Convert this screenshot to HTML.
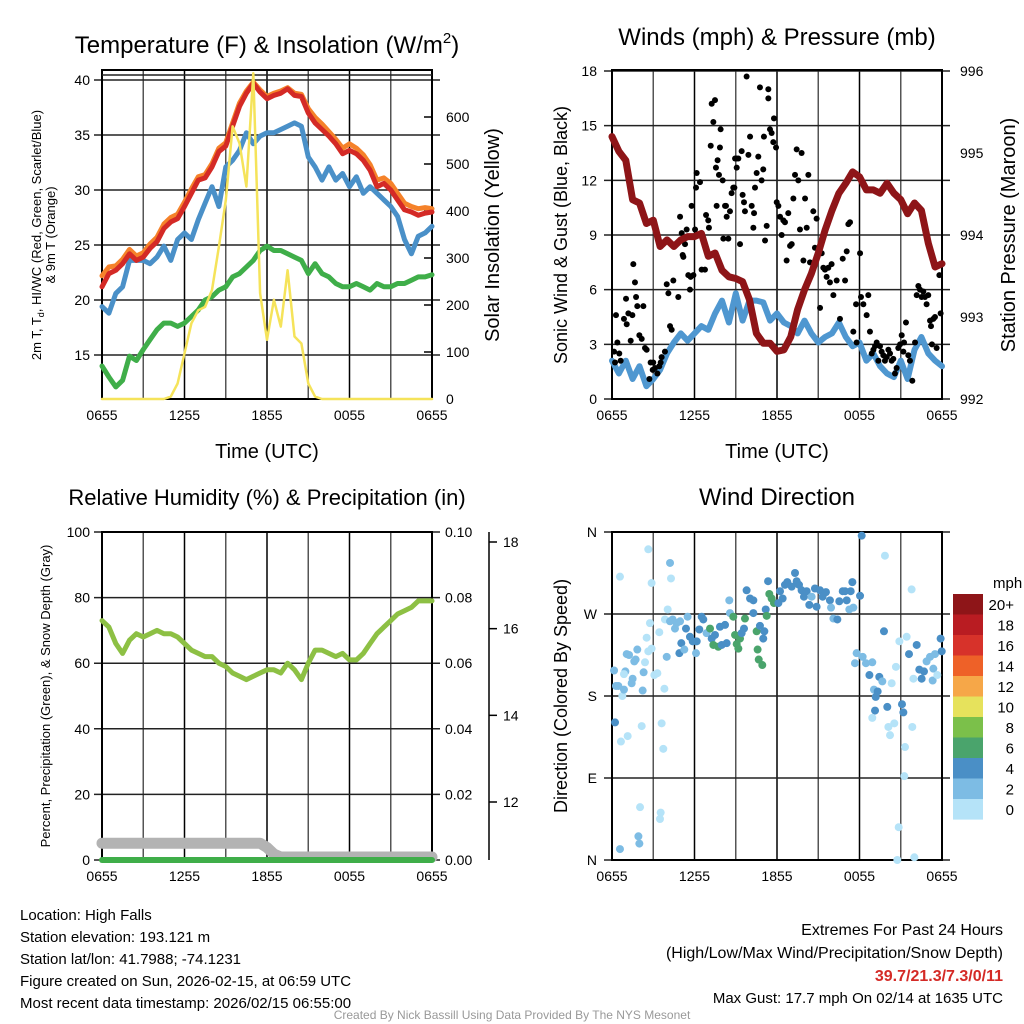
<!DOCTYPE html>
<html><head><meta charset="utf-8"><style>
body{margin:0;background:#fff;}
svg{display:block;font-family:"Liberation Sans",Arial,sans-serif;}
</style></head><body>
<svg id="s" width="1024" height="1024" viewBox="0 0 1024 1024"></svg>
<script>
// ---------- DATA ----------
const hoursHalf = Array.from({length:49},(_,i)=>i*0.5);
const xTickLabels = ["0655","1255","1855","0055","0655"];
const tempRed = [21.2,22.4,22.7,23.3,24.2,23.6,23.9,24.7,25.3,26.5,27.1,27.4,28.5,29.7,30.9,31.1,32.1,33.5,34.0,35.8,37.6,38.8,39.7,38.9,38.3,38.6,38.8,39.2,38.6,38.5,37.0,36.1,35.5,34.9,34.2,33.3,33.6,33.3,32.7,31.8,30.3,30.6,30.0,29.1,28.2,28.0,27.7,27.9,28.0];
const tempOrange = [22.2,23.0,23.1,23.7,24.6,24.0,24.3,25.1,25.7,26.9,27.5,27.8,28.9,30.1,31.2,31.4,32.4,33.8,34.3,36.1,37.9,39.0,39.8,39.1,38.5,38.8,39.0,39.3,38.8,38.7,37.4,36.6,36.0,35.3,34.6,33.8,34.2,33.8,33.2,32.3,30.9,31.1,30.6,29.7,28.8,28.5,28.3,28.4,28.3];
const tempBlue = [19.4,18.8,20.6,21.2,23.6,23.6,23.6,23.3,23.9,24.9,23.6,25.5,26.1,25.5,27.3,28.8,30.3,28.5,32.1,32.7,33.6,35.2,34.2,34.9,35.2,35.2,35.5,35.8,36.1,35.8,33.0,32.1,30.9,32.1,30.9,31.5,30.3,31.2,29.7,30.3,29.7,29.1,28.5,27.6,25.5,24.2,25.8,26.1,26.7];
const dewGreen = [14.0,13.0,12.1,12.7,14.9,14.5,15.5,16.4,17.3,17.9,17.9,17.6,17.9,18.5,19.1,20.0,20.3,20.9,21.2,22.1,22.4,23.0,23.6,24.5,24.9,24.5,24.5,24.2,23.9,23.6,22.4,23.3,22.4,22.1,21.5,21.2,21.2,21.5,21.2,20.9,21.5,21.2,21.2,21.5,21.5,21.8,22.1,22.1,22.3];
const solar = [0,0,0,0,0,0,0,0,0,0,5,33,97,161,189,196,232,324,423,580,544,452,693,225,126,211,154,274,133,118,33,5,0,0,0,0,0,0,0,0,0,0,0,0,0,0,0,0,0];
const tempTicks = [15,20,25,30,35,40];
const solarTicks = [0,100,200,300,400,500,600];

const windSonic = [2.1,1.4,2.1,1.1,1.8,0.7,1.1,1.6,2.5,3.1,3.6,3.2,3.6,4.0,3.8,4.7,5.4,4.2,5.8,4.3,5.4,5.4,5.3,4.3,4.7,4.2,4.0,3.6,4.3,3.6,3.1,3.4,3.6,4.2,3.4,2.9,3.1,2.1,2.5,1.8,1.4,1.2,2.1,1.1,2.7,3.4,2.5,2.1,1.8];
const pressure = [995.20,995.02,994.91,994.43,994.39,994.14,994.18,993.86,993.94,993.86,993.94,993.98,993.98,994.02,993.74,993.78,993.57,993.49,993.47,993.43,993.21,992.80,992.68,992.68,992.58,992.60,992.76,993.09,993.33,993.53,993.78,994.06,994.30,994.51,994.63,994.77,994.71,994.55,994.55,994.51,994.63,994.51,994.43,994.26,994.39,994.30,993.90,993.61,993.65];
const gustHours = [0.15,0.29,0.22,0.39,0.53,0.63,0.87,1.02,1.07,1.19,1.36,1.48,1.55,1.67,1.75,1.84,1.99,2.16,2.28,2.4,2.52,2.72,2.81,2.96,3.0,3.13,3.3,3.44,3.54,3.61,3.85,3.98,4.1,4.22,4.34,4.46,4.82,4.95,5.07,5.14,5.19,5.31,5.43,5.55,5.67,5.72,5.79,5.92,6.04,6.11,6.16,6.4,6.52,6.76,6.84,7.0,7.05,7.18,7.25,7.37,7.49,7.56,7.61,7.68,7.78,7.85,7.9,8.05,8.1,8.22,8.29,8.34,8.46,8.58,8.7,8.82,8.9,8.95,9.07,9.07,9.19,9.31,9.43,9.5,9.6,9.67,9.79,9.92,10.04,10.16,10.28,10.33,10.4,10.52,10.64,10.76,10.88,11.0,11.05,11.13,11.25,11.37,11.37,11.49,11.61,11.73,11.78,11.93,11.98,12.1,12.22,12.34,12.46,12.58,12.7,12.82,12.95,13.07,13.19,13.31,13.43,13.55,13.67,13.79,13.92,14.04,14.16,14.28,14.4,14.64,14.76,14.88,15.13,15.25,15.37,15.49,15.61,15.73,15.85,15.97,16.1,16.34,16.58,16.78,16.95,17.07,17.19,17.31,17.55,17.75,17.79,18.04,18.11,18.28,18.52,18.64,18.76,18.89,19.01,19.13,19.25,19.37,19.49,19.61,19.73,19.85,19.98,20.1,20.22,20.34,20.46,20.58,20.7,20.82,20.95,21.07,21.19,21.24,21.38,21.55,21.67,21.84,22.04,22.16,22.28,22.4,22.52,22.64,22.76,22.88,23.0,23.13,23.2,23.27,23.37,23.49,23.61,23.81,23.9];
const gustMph = [2.6,4.6,2.0,3.1,2.5,2.1,4.4,5.5,4.1,4.7,3.2,4.6,7.4,6.4,5.6,5.1,3.5,3.3,5.1,2.8,2.7,1.1,2.0,1.6,2.0,1.7,1.4,1.8,2.0,2.3,2.6,6.3,5.8,4.0,3.8,6.5,5.6,10.0,9.1,7.9,7.8,8.5,9.3,6.8,6.0,6.7,10.6,6.8,9.3,11.6,12.4,11.9,7.1,7.1,10.1,9.8,9.4,13.9,16.2,15.2,16.4,12.7,10.6,13.1,12.3,13.8,14.8,12.0,8.8,10.6,10.6,10.0,8.8,10.3,11.3,11.6,11.6,13.2,13.2,12.7,13.2,8.5,13.6,11.2,10.8,10.3,17.7,13.4,14.4,10.6,9.4,10.2,11.6,12.4,13.3,17.1,12.0,12.6,14.4,8.7,9.5,17.0,16.5,14.8,14.6,14.1,15.4,13.8,10.8,10.6,10.0,9.0,9.8,9.7,7.6,10.2,8.4,8.5,11.0,12.3,13.7,12.0,9.3,13.5,7.6,11.0,9.4,12.3,7.5,10.3,8.3,9.9,5.0,8.0,7.2,7.1,6.7,7.2,6.4,7.4,5.7,6.5,4.4,7.7,6.5,8.1,9.6,9.7,3.7,5.2,3.1,8.0,5.6,5.2,4.6,5.7,3.7,2.5,2.7,2.9,3.1,2.1,2.9,2.6,2.4,2.1,2.3,2.7,2.5,2.1,2.2,1.4,1.7,2.8,3.0,3.5,2.6,3.1,4.2,2.4,2.1,1.0,3.1,5.7,6.2,6.0,5.6,5.9,5.6,5.2,5.7,4.3,4.0,3.0,4.4,4.5,2.8,6.8,4.7];
const windTicks = [0,3,6,9,12,15,18];
const pressTicks = [992,993,994,995,996];

const rh = [73,71,66,63,67,69,68,69,70,69,69,68,66,64,63,62,62,60,59,57,56,55,56,57,58,58,57,60,58,55,60,64,64,63,62,63,61,61,63,66,69,71,73,75,76,77,79,79,79];
const snowDepth = [11.05,11.05,11.05,11.05,11.05,11.05,11.05,11.05,11.05,11.05,11.05,11.05,11.05,11.05,11.05,11.05,11.05,11.05,11.05,11.05,11.05,11.05,11.05,11.05,10.95,10.8,10.73,10.73,10.73,10.73,10.73,10.73,10.73,10.73,10.73,10.73,10.73,10.73,10.73,10.73,10.73,10.73,10.73,10.73,10.73,10.73,10.73,10.73,10.73];
const precip = new Array(49).fill(0);
const rhTicks = [0,20,40,60,80,100];
const precipTicks = ["0.00","0.02","0.04","0.06","0.08","0.10"];
const snowTicks = [12,14,16,18];

const dirHours = [0.15,0.29,0.58,0.46,0.75,0.87,0.97,1.07,1.24,0.87,1.43,1.5,1.62,1.72,1.84,2.3,2.23,2.4,2.52,2.64,2.76,2.88,2.64,2.88,3.08,3.3,3.44,3.81,3.85,3.98,4.05,4.22,4.29,4.22,4.41,4.58,4.7,4.95,4.9,5.04,5.26,5.38,5.5,5.67,5.87,6.11,6.16,6.35,6.52,6.64,6.88,7.13,7.25,7.37,7.49,7.73,7.85,7.98,8.22,8.34,8.53,8.58,8.82,8.95,9.07,9.19,9.31,9.43,9.6,9.67,9.79,10.04,10.28,10.28,10.52,10.59,10.67,10.76,10.93,11.0,11.08,11.18,11.25,11.35,11.44,11.61,11.78,12.1,12.22,12.41,12.58,12.75,13.07,13.31,13.43,13.6,13.79,13.96,14.16,14.35,14.52,14.76,14.88,15.13,15.32,15.56,15.85,15.93,16.1,16.39,16.53,16.78,16.95,17.07,17.26,17.36,17.48,17.55,18.04,18.16,17.79,17.67,18.23,18.47,18.72,18.93,19.05,19.18,19.32,19.44,19.66,19.85,19.78,19.13,18.93,20.02,20.1,20.22,20.34,20.53,20.65,20.9,21.09,21.19,21.31,21.26,20.85,20.75,21.99,21.43,21.6,21.79,21.84,21.92,22.16,22.35,22.52,22.69,22.88,23.13,23.37,23.32,23.66,23.49,23.9,23.98,0.22,0.65,1.14,2.16,3.61,3.73,2.04,1.92,1.99,3.54,3.49,0.58];
const dirDeg = [208,191,311,191,180,187,207,226,225,204,194,199,218,220,231,206,186,217,244,229,260,232,341,304,203,205,250,188,264,223,275,326,309,262,264,254,260,262,227,238,231,254,267,245,240,227,240,253,267,264,249,254,243,236,247,234,256,236,258,238,285,271,267,247,237,232,243,249,254,265,296,287,285,271,251,231,220,257,214,243,251,275,268,306,292,287,282,282,295,287,302,305,300,315,306,302,296,289,295,280,289,298,278,296,289,294,285,277,265,264,284,295,295,285,275,295,305,277,290,356,227,216,223,216,203,217,187,179,185,201,196,334,251,164,156,168,146,137,194,150,212,240,171,162,124,92,36,0,3,245,226,297,146,199,236,209,199,207,218,223,210,197,203,226,243,229,151,130,136,147,150,122,58,26,18,52,45,12];
const dirSpeed = [3,3,1,3,1,3,3,3,3,1,3,3,3,3,3,3,3,1,1,1,1,1,1,1,1,1,1,1,1,3,1,3,1,3,3,3,3,3,5,5,3,5,3,5,5,3,5,5,5,5,3,7,5,7,5,7,5,5,5,5,3,3,7,7,7,7,7,5,5,7,5,5,5,5,7,7,7,5,7,5,5,5,7,5,7,7,7,5,5,5,5,5,5,5,5,5,5,5,5,5,3,5,5,5,5,5,5,3,3,5,5,5,5,5,3,5,5,3,5,5,3,3,3,3,5,3,3,5,5,5,3,1,5,5,1,5,1,1,1,1,1,1,5,5,1,1,1,1,1,1,5,1,1,1,5,5,5,5,3,3,3,3,1,3,5,5,5,1,1,1,1,1,1,3,3,1,1,3];
const dirTickLabels = ["N","E","S","W","N"];
const cbLabels = ["20+","18","16","14","12","10","8","6","4","2","0"];
const cbColors = ["#8e1518","#b91c22","#d7322a","#ee6128","#f6a748","#e6e25c","#7bc04a","#4aa46c","#4a8fc6","#7dbce4","#b5e3f8"];

// ---------- HELPERS ----------
const NS="http://www.w3.org/2000/svg", S=document.getElementById('s');
function mk(tag,attrs,parent,txt){const e=document.createElementNS(NS,tag);for(const k in attrs)e.setAttribute(k,attrs[k]);if(txt!==undefined)e.textContent=txt;(parent||S).appendChild(e);return e;}
function lin(d0,d1,r0,r1){return v=>r0+(v-d0)*(r1-r0)/(d1-d0);}
function poly(xs,ys,fx,fy,attrs,name){const pts=xs.map((x,i)=>fx(x).toFixed(1)+','+fy(ys[i]).toFixed(1)).join(' ');const p=mk('polyline',Object.assign({points:pts,fill:'none','stroke-linejoin':'round','stroke-linecap':'round'},attrs));return p;}
function txt(x,y,s,attrs,name){const t=mk('text',Object.assign({x:x,y:y},attrs),S,s);return t;}
function frame(x0,y0,x1,y1,fx,hLines,name){
  const g=mk('g',{});
  for(let h=0;h<=24;h+=3){mk('line',{x1:fx(h),x2:fx(h),y1:y0,y2:y1,stroke:h%6==0?'#000':'#555','stroke-width':1.5},g);}
  hLines.forEach(y=>mk('line',{x1:x0-8,x2:x1+8,y1:y,y2:y,stroke:'#222','stroke-width':1.5},g));
  const b=mk('rect',{x:x0,y:y0,width:x1-x0,height:y1-y0,fill:'none',stroke:'#000','stroke-width':2});
  
  xTickLabels.forEach((l,i)=>txt(fx(i*6),y1+21,l,{'font-size':14,'text-anchor':'middle'},'x-tick-label'));
}

// ---------- PANEL 1 ----------
const x1=lin(0,24,102,432), yT=lin(40,15,80,355), yS=lin(0,600,399,117);
frame(102,70,432,399,x1,tempTicks.map(yT),'temp-panel');
mk('line',{x1:102,x2:432,y1:75,y2:75,stroke:'#222','stroke-width':1.5});
tempTicks.forEach(v=>txt(90,yT(v)+5,String(v),{'font-size':14,'text-anchor':'end'},'temp-tick-label'));
solarTicks.forEach(v=>{txt(446,yS(v)+5,String(v),{'font-size':14},'solar-tick-label');mk('line',{x1:432,x2:424,y1:yS(v),y2:yS(v),stroke:'#000','stroke-width':1.5});});
poly(hoursHalf,dewGreen,x1,yT,{stroke:'#3fae49','stroke-width':5},'dewpoint-line');
poly(hoursHalf,tempBlue,x1,yT,{stroke:'#4a90c8','stroke-width':5},'windchill-line');
poly(hoursHalf,tempOrange,x1,yT,{stroke:'#f5822a','stroke-width':5},'temp-9m-line');
poly(hoursHalf,tempRed,x1,yT,{stroke:'#d42a26','stroke-width':5},'temp-2m-line');
poly(hoursHalf,solar,x1,yS,{stroke:'#f5e35a','stroke-width':2.5},'insolation-line');
const t1=txt(267,53,'Temperature (F) & Insolation (W/m',{'font-size':24,'text-anchor':'middle'},'temp-title');
mk('tspan',{dy:-10,'font-size':15},t1,'2');mk('tspan',{dy:10},t1,')');
txt(267,458,'Time (UTC)',{'font-size':20,'text-anchor':'middle'},'temp-x-title');
txt(0,0,'2m T, T',{'font-size':13,'text-anchor':'middle',transform:'translate(41,235) rotate(-90)'},'temp-y-title').innerHTML='2m T, T<tspan font-size="9" dy="3">d</tspan><tspan dy="-3">, HI/WC (Red, Green, Scarlet/Blue)</tspan>';
txt(0,0,'& 9m T (Orange)',{'font-size':13,'text-anchor':'middle',transform:'translate(55,235) rotate(-90)'},'temp-y-title-2');
txt(0,0,'Solar Insolation (Yellow)',{'font-size':20,'text-anchor':'middle',transform:'translate(499,235) rotate(-90)'},'solar-y-title');

// ---------- PANEL 2 ----------
const x2=lin(0,24,612,942), yW=lin(0,18,399,71), yP=lin(992,996,399,71);
frame(612,70,942,399,x2,windTicks.map(yW),'wind-panel');
windTicks.forEach(v=>txt(597,yW(v)+5,String(v),{'font-size':14,'text-anchor':'end'},'wind-tick-label'));
pressTicks.forEach(v=>txt(960,yP(v)+5,String(v),{'font-size':14},'pressure-tick-label'));
poly(hoursHalf,windSonic,x2,yW,{stroke:'#4f97d0','stroke-width':6},'sonic-wind-line');
gustHours.forEach((h,i)=>{const c=mk('circle',{cx:x2(h),cy:yW(gustMph[i]),r:3,fill:'#000'});});
poly(hoursHalf,pressure,x2,yP,{stroke:'#8e1518','stroke-width':7},'pressure-line');
txt(777,45,'Winds (mph) & Pressure (mb)',{'font-size':24,'text-anchor':'middle'},'wind-title');
txt(777,458,'Time (UTC)',{'font-size':20,'text-anchor':'middle'},'wind-x-title');
txt(0,0,'Sonic Wind & Gust (Blue, Black)',{'font-size':18,'text-anchor':'middle',transform:'translate(567,235) rotate(-90)'},'wind-y-title');
txt(0,0,'Station Pressure (Maroon)',{'font-size':20,'text-anchor':'middle',transform:'translate(1015,235) rotate(-90)'},'pressure-y-title');

// ---------- PANEL 3 ----------
const x3=lin(0,24,102,432), yR=lin(0,100,860,532), ySn=lin(12,18,802,542);
frame(102,532,432,860,x3,rhTicks.map(yR),'rh-panel');
rhTicks.forEach(v=>txt(90,yR(v)+5,String(v),{'font-size':14,'text-anchor':'end'},'rh-tick-label'));
precipTicks.forEach((l,i)=>txt(445,yR(i*20)+5,l,{'font-size':14},'precip-tick-label'));
mk('line',{x1:489,x2:489,y1:532,y2:860,stroke:'#000','stroke-width':1.5});
snowTicks.forEach(v=>{mk('line',{x1:489,x2:497,y1:ySn(v),y2:ySn(v),stroke:'#000','stroke-width':1.5});txt(503,ySn(v)+5,String(v),{'font-size':14},'snow-tick-label');});
poly(hoursHalf,snowDepth,x3,ySn,{stroke:'#b3b3b3','stroke-width':11},'snow-depth-line');
poly(hoursHalf,precip,x3,v=>860-v*3280,{stroke:'#3fae49','stroke-width':6},'precip-line');
poly(hoursHalf,rh,x3,yR,{stroke:'#8dc044','stroke-width':5},'rh-line');
txt(267,505,'Relative Humidity (%) & Precipitation (in)',{'font-size':22,'text-anchor':'middle'},'rh-title');
txt(0,0,'Percent, Precipitation (Green), & Snow Depth (Gray)',{'font-size':13,'text-anchor':'middle',transform:'translate(50,696) rotate(-90)'},'rh-y-title');

// ---------- PANEL 4 ----------
const x4=lin(0,24,612,942), yD=lin(0,360,860,532);
frame(612,532,942,860,x4,[0,90,180,270,360].map(yD),'dir-panel');
dirTickLabels.forEach((l,i)=>txt(597,yD(i*90)+5,l,{'font-size':14,'text-anchor':'end'},'dir-tick-label'));
dirHours.forEach((h,i)=>{const idx=10-Math.min(10,Math.floor(dirSpeed[i]/2));const c=mk('circle',{cx:x4(h),cy:yD(dirDeg[i]),r:4,fill:cbColors[idx]});});
txt(777,505,'Wind Direction',{'font-size':24,'text-anchor':'middle'},'dir-title');
txt(0,0,'Direction (Colored By Speed)',{'font-size':18,'text-anchor':'middle',transform:'translate(567,696) rotate(-90)'},'dir-y-title');
txt(993,588,'mph',{'font-size':15},'colorbar-title');
cbColors.forEach((c,i)=>{const r=mk('rect',{x:953,y:594+i*20.5,width:30,height:20.6,fill:c});
 txt(1014,594+i*20.5+16,cbLabels[i],{'font-size':15,'text-anchor':'end'},'colorbar-label');});

// ---------- FOOTER ----------
["Location: High Falls","Station elevation: 193.121 m","Station lat/lon: 41.7988; -74.1231","Figure created on Sun, 2026-02-15, at 06:59 UTC","Most recent data timestamp: 2026/02/15 06:55:00"].forEach((l,i)=>txt(20,920+i*22,l,{'font-size':15},'station-info-line'));
txt(1003,935,'Extremes For Past 24 Hours',{'font-size':16,'text-anchor':'end'},'extremes-title');
txt(1003,958,'(High/Low/Max Wind/Precipitation/Snow Depth)',{'font-size':16,'text-anchor':'end'},'extremes-subtitle');
txt(1003,981,'39.7/21.3/7.3/0/11',{'font-size':16,'text-anchor':'end','font-weight':'bold',fill:'#d42a26'},'extremes-values');
txt(1003,1003,'Max Gust: 17.7 mph On 02/14 at 1635 UTC',{'font-size':15,'text-anchor':'end'},'max-gust');
txt(512,1019,'Created By Nick Bassill Using Data Provided By The NYS Mesonet',{'font-size':12,'text-anchor':'middle',fill:'#999'},'credit');
</script>
</body></html>
